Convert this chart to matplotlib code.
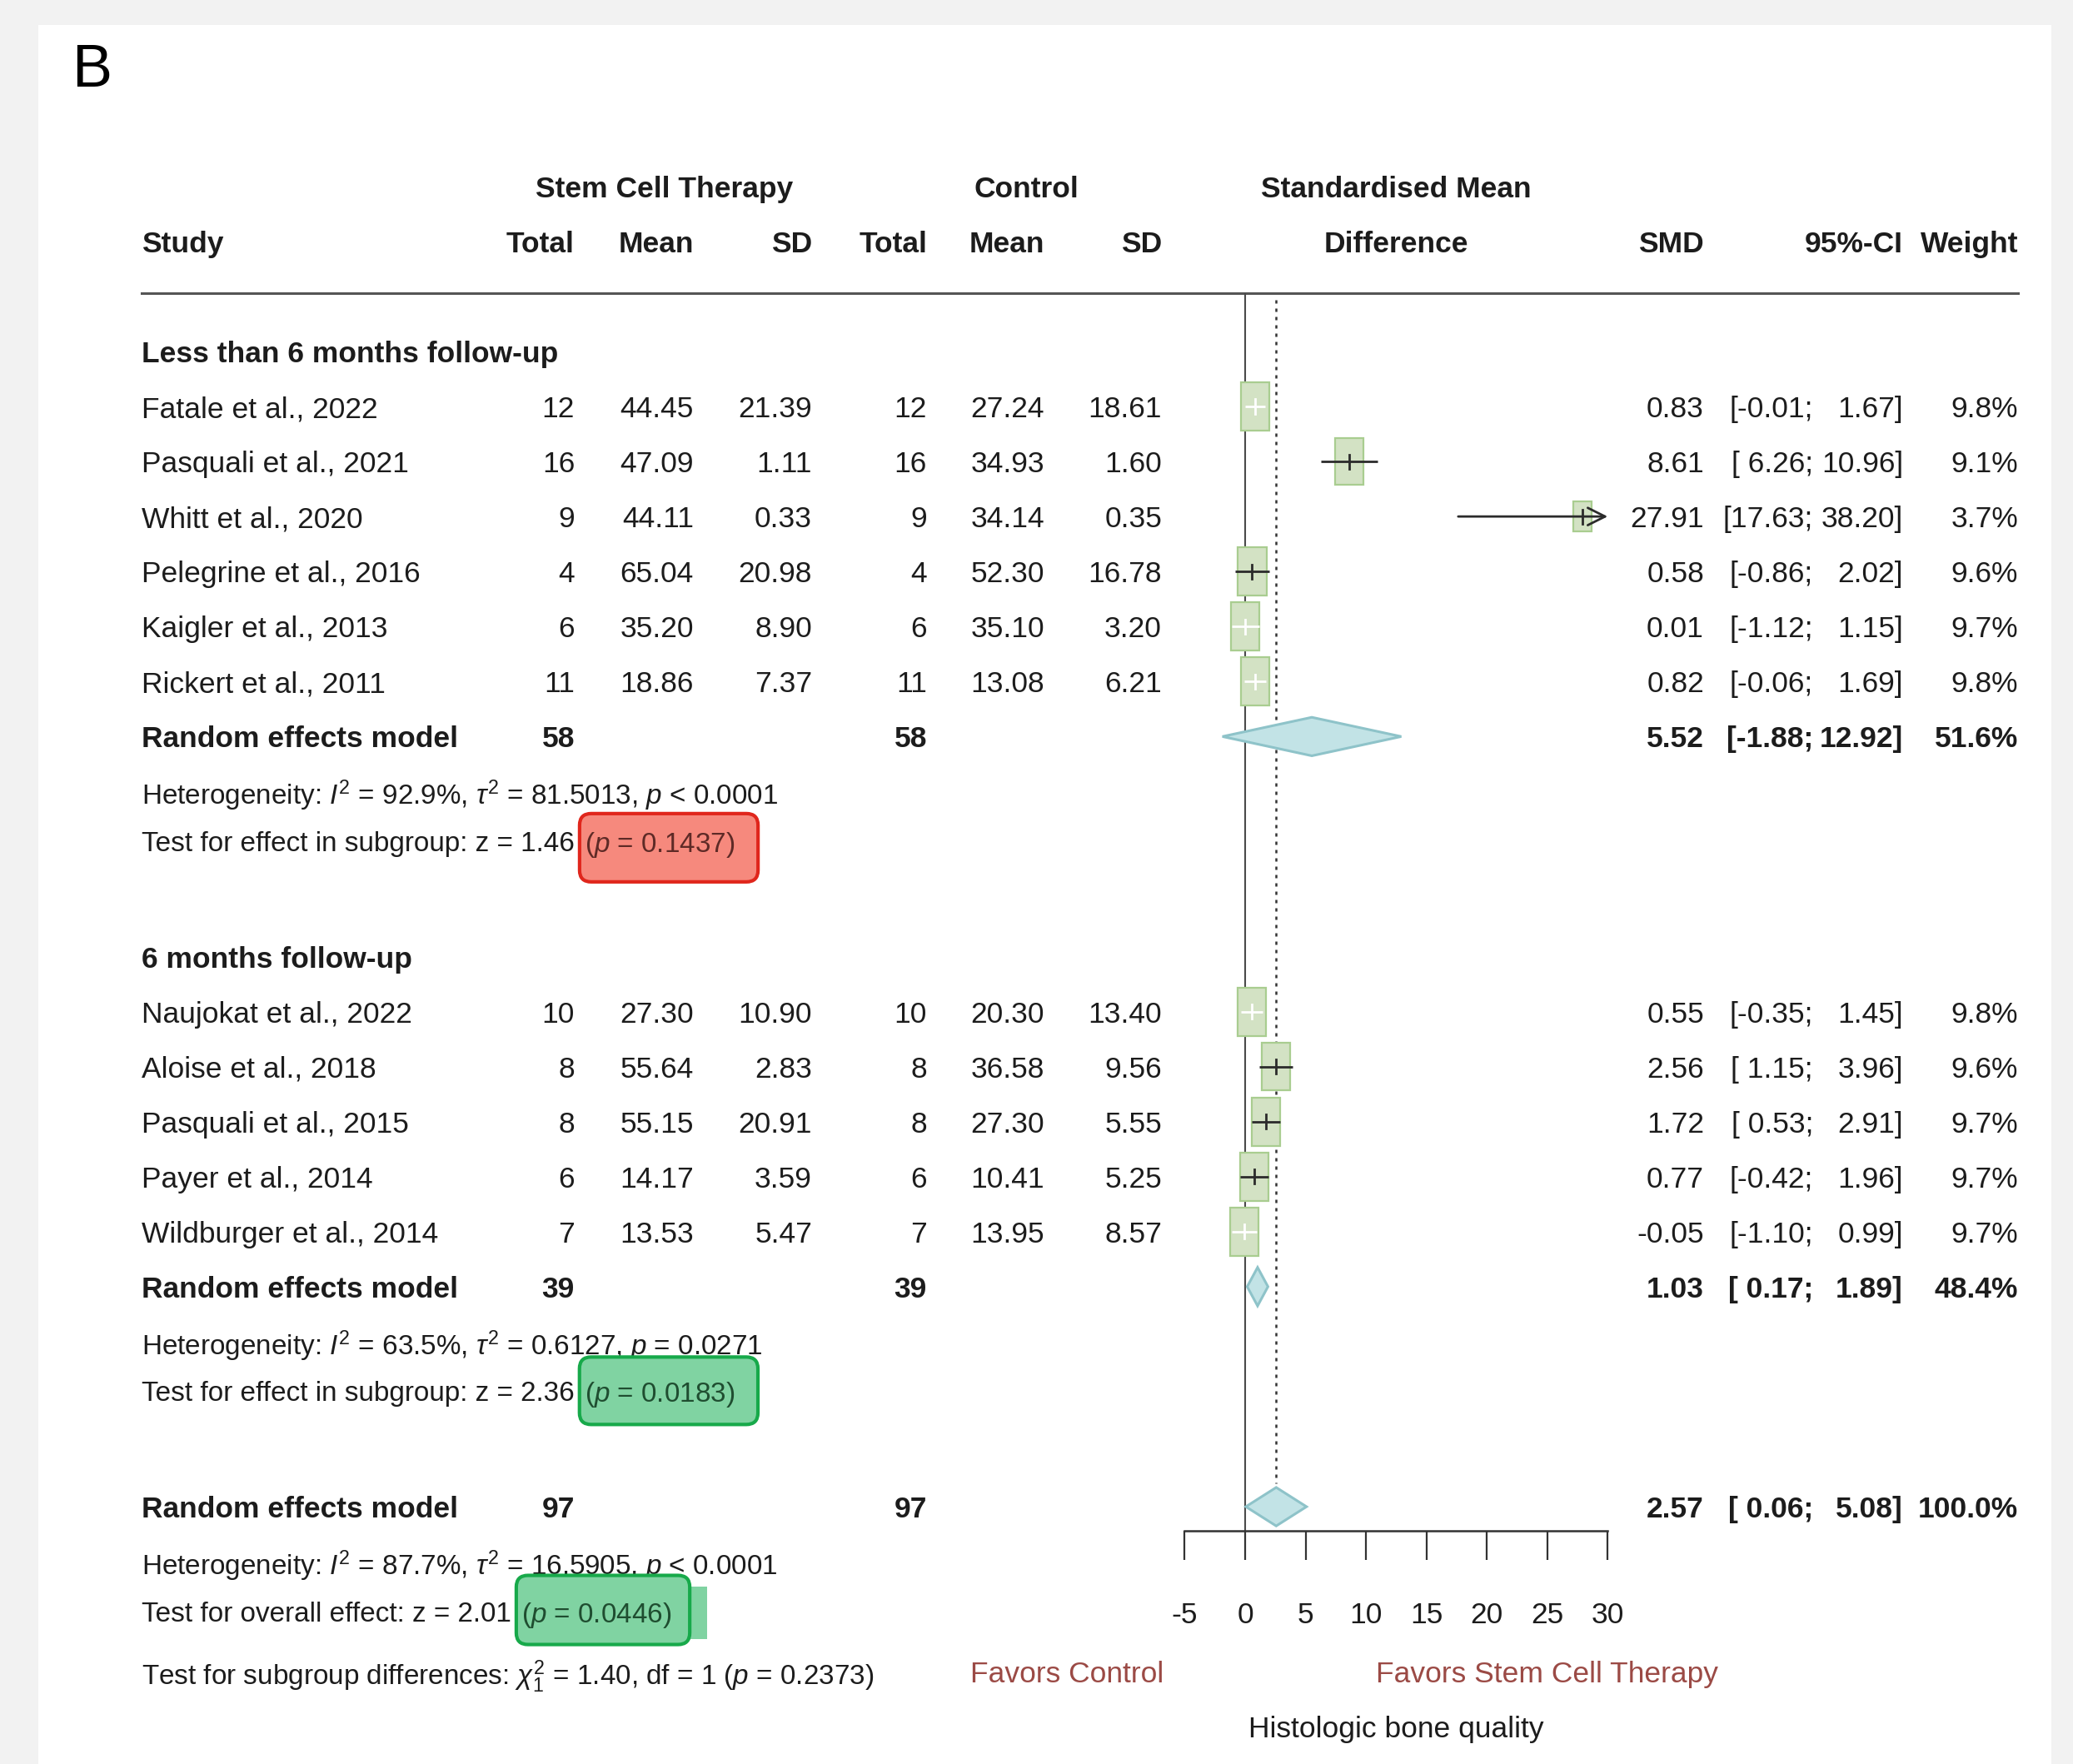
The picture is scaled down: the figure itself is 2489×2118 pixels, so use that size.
import matplotlib
matplotlib.use('Agg')
import matplotlib.pyplot as plt
from matplotlib import font_manager
from matplotlib.patches import Rectangle, Polygon, FancyBboxPatch
import numpy as np

names = {f.name for f in font_manager.fontManager.ttflist}
FONT = 'Liberation Sans Narrow' if 'Liberation Sans Narrow' in names else 'Liberation Sans'
FS = 31 if FONT.endswith('Narrow') else 25.5
FS_NOTE = FS * 0.94

plt.rcParams.update({
    'font.family': [FONT, 'DejaVu Sans'],
    'font.size': FS,
    'axes.unicode_minus': False,
    'mathtext.fontset': 'custom',
    'mathtext.rm': FONT,
    'mathtext.it': FONT + ':italic',
    'mathtext.bf': FONT + ':bold',
})

TXT = '#1c1c1c'
SQ_FACE = '#d3e2c4'
SQ_EDGE = '#a9cd90'
DIA_FACE = '#c2e3e6'
DIA_EDGE = '#8ec3c9'
FAV = '#9b4a45'

# ---- data ----
studies1 = ['Fatale et al., 2022', 'Pasquali et al., 2021', 'Whitt et al., 2020',
            'Pelegrine et al., 2016', 'Kaigler et al., 2013', 'Rickert et al., 2011']
n_e1 = [12, 16, 9, 4, 6, 11]
mean_e1 = [44.45, 47.09, 44.11, 65.04, 35.20, 18.86]
sd_e1 = [21.39, 1.11, 0.33, 20.98, 8.90, 7.37]
n_c1 = [12, 16, 9, 4, 6, 11]
mean_c1 = [27.24, 34.93, 34.14, 52.30, 35.10, 13.08]
sd_c1 = [18.61, 1.60, 0.35, 16.78, 3.20, 6.21]
smd1 = [0.83, 8.61, 27.91, 0.58, 0.01, 0.82]
lo1 = [-0.01, 6.26, 17.63, -0.86, -1.12, -0.06]
hi1 = [1.67, 10.96, 38.20, 2.02, 1.15, 1.69]
w1 = [9.8, 9.1, 3.7, 9.6, 9.7, 9.8]

studies2 = ['Naujokat et al., 2022', 'Aloise et al., 2018', 'Pasquali et al., 2015',
            'Payer et al., 2014', 'Wildburger et al., 2014']
n_e2 = [10, 8, 8, 6, 7]
mean_e2 = [27.30, 55.64, 55.15, 14.17, 13.53]
sd_e2 = [10.90, 2.83, 20.91, 3.59, 5.47]
n_c2 = [10, 8, 8, 6, 7]
mean_c2 = [20.30, 36.58, 27.30, 10.41, 13.95]
sd_c2 = [13.40, 9.56, 5.55, 5.25, 8.57]
smd2 = [0.55, 2.56, 1.72, 0.77, -0.05]
lo2 = [-0.35, 1.15, 0.53, -0.42, -1.10]
hi2 = [1.45, 3.96, 2.91, 1.96, 0.99]
w2 = [9.8, 9.6, 9.7, 9.7, 9.7]

group_titles = ['Less than 6 months follow-up', '6 months follow-up']
re_n = [58, 39]
re_smd = [5.52, 1.03]
re_lo = [-1.88, 0.17]
re_hi = [12.92, 1.89]
re_w = [51.6, 48.4]
het_txt = [r'Heterogeneity: $I^2$ = 92.9%, $\tau^2$ = 81.5013, $p$ < 0.0001',
           r'Heterogeneity: $I^2$ = 63.5%, $\tau^2$ = 0.6127, $p$ = 0.0271']
test_lead = ['Test for effect in subgroup: z = 1.46', 'Test for effect in subgroup: z = 2.36']
test_p = [r'($p$ = 0.1437)', r'($p$ = 0.0183)']

ov_n = 97
ov_smd, ov_lo, ov_hi, ov_w = 2.57, 0.06, 5.08, 100.0
ov_het = r'Heterogeneity: $I^2$ = 87.7%, $\tau^2$ = 16.5905, $p$ < 0.0001'
ov_lead = 'Test for overall effect: z = 2.01'
ov_p = r'($p$ = 0.0446)'
sub_txt = r'Test for subgroup differences: $\chi^2_1$ = 1.40, df = 1 ($p$ = 0.2373)'

xticks = [-5, 0, 5, 10, 15, 20, 25, 30]

# ---- layout (pixels of the 2489x2118 canvas) ----
W, H = 2489, 2118
ROW0_PX, ROW_PX = 422, 66.05
def row_of(px):
    return (px - ROW0_PX) / ROW_PX

X_STUDY = 170
X_NE, X_ME, X_SE = 690, 833, 975
X_NC, X_MC, X_SC = 1113, 1254, 1395
X_SMD, X_SEMI, X_CIEND, X_W = 2046, 2177, 2285, 2423
ZERO_PX, PX_PER_UNIT = 1495, 14.51
AXIS_PX, RULE_PX = 1838, 352

fig = plt.figure(figsize=(W / 100, H / 100), dpi=100)
fig.patch.set_facecolor('#f2f2f2')

ax = fig.add_axes([0, 0, 1, 1])
ax.set_xlim(0, W)
ax.set_ylim(row_of(H), row_of(0))
ax.axis('off')
ax.add_patch(Rectangle((46, row_of(30)), 2463 - 46, row_of(H) - row_of(30),
                       facecolor='white', edgecolor='none', zorder=0))

ax.text(86, row_of(86), 'B', fontsize=52, color='black', ha='left', va='center')

# forest axes
xmin, xmax = xticks[0], xticks[-1]
left_px = ZERO_PX + xmin * PX_PER_UNIT
right_px = ZERO_PX + xmax * PX_PER_UNIT
axf = fig.add_axes([left_px / W, 1 - AXIS_PX / H, (right_px - left_px) / W, (AXIS_PX - RULE_PX) / H])
axf.set_xlim(xmin, xmax)
axf.set_ylim(row_of(AXIS_PX), row_of(RULE_PX))
axf.patch.set_alpha(0)
for s in ['left', 'right', 'top']:
    axf.spines[s].set_visible(False)
axf.spines['bottom'].set_linewidth(1.8)
axf.spines['bottom'].set_color('#333333')
axf.set_xticks(xticks)
axf.set_xticklabels([str(t) for t in xticks])
axf.set_yticks([])
axf.tick_params(axis='x', direction='out', length=25, width=1.6, pad=36,
                labelsize=FS, colors='#333333', labelcolor=TXT)
axf.axvline(0, color='#4a4a4a', lw=1.5, zorder=1)

def put(x, row, s, ha='right', bold=False, color=TXT, **kw):
    return ax.text(x, row, s, ha=ha, va='center_baseline', color=color,
                   fontweight='bold' if bold else 'normal', **kw)

# header
put(X_STUDY, -2, 'Study', ha='left', bold=True)
put((641 + 954) / 2, -3, 'Stem Cell Therapy', ha='center', bold=True)
put(1232, -3, 'Control', ha='center', bold=True)
put(1676, -3, 'Standardised Mean', ha='center', bold=True)
put(1676, -2, 'Difference', ha='center', bold=True)
for x, s in [(X_NE, 'Total'), (X_ME, 'Mean'), (X_SE, 'SD'), (X_NC, 'Total'),
             (X_MC, 'Mean'), (X_SC, 'SD'), (X_SMD, 'SMD'), (X_CIEND, '95%-CI'), (X_W, 'Weight')]:
    put(x, -2, s, bold=True)
ax.plot([X_STUDY, X_W], [row_of(RULE_PX)] * 2, color='#555555', lw=2.2, zorder=2)

renderer = fig.canvas.get_renderer()

def ci_cols(row, smd, lo, hi, w, bold=False):
    put(X_SMD, row, f'{smd:.2f}', bold=bold)
    put(X_SEMI, row, f'[{lo:5.2f};', bold=bold)
    put(X_CIEND, row, f'{hi:.2f}]', bold=bold)
    put(X_W, row, f'{w:.1f}%', bold=bold)

def p_box(row, lead, ptxt, pads, ec, fc, tc, extra=None):
    t1 = put(X_STUDY, row, lead, ha='left', fontsize=FS_NOTE)
    bb = t1.get_window_extent(renderer)
    t2 = put(bb.x1 + 12, row, ptxt, ha='left', color=tc, zorder=5, fontsize=FS_NOTE)
    b2 = t2.get_window_extent(renderer)
    l, r, up, dn = pads
    if extra is not None:
        el, er, eu, ed = extra
        ax.add_patch(Rectangle((b2.x0 - el, row - eu / ROW_PX), b2.x1 + er - (b2.x0 - el),
                               (eu + ed) / ROW_PX, facecolor=fc, edgecolor='none', zorder=3))
    ax.add_patch(FancyBboxPatch((b2.x0 - l, row - up / ROW_PX), b2.x1 + r - (b2.x0 - l),
                                (up + dn) / ROW_PX, boxstyle='round,pad=0,rounding_size=14',
                                mutation_aspect=1 / ROW_PX, facecolor=fc, edgecolor=ec,
                                lw=3, zorder=4))

def study_mark(row, smd, lo, hi, w):
    wx = 2.38 * np.sqrt(w / 9.8)
    hy = 0.88 * np.sqrt(w / 9.8)
    axf.add_patch(Rectangle((smd - wx / 2, row - hy / 2), wx, hy, facecolor=SQ_FACE,
                            edgecolor=SQ_EDGE, lw=1.6, zorder=3))
    col = 'white' if (hi - lo) < wx else '#2b2b2b'
    if hi > xmax:
        axf.annotate('', xy=(xmax, row), xytext=(lo, row), zorder=4,
                     arrowprops=dict(arrowstyle='->,head_length=0.5,head_width=0.25',
                                     color=col, lw=2, shrinkA=0, shrinkB=0, mutation_scale=30))
    else:
        axf.plot([lo, hi], [row, row], color=col, lw=2, zorder=4, solid_capstyle='butt')
    axf.plot([smd, smd], [row - 0.13, row + 0.13], color=col, lw=2, zorder=4)

def diamond(row, smd, lo, hi):
    axf.add_patch(Polygon([(lo, row), (smd, row - 0.35), (hi, row), (smd, row + 0.35)],
                          closed=True, facecolor=DIA_FACE, edgecolor=DIA_EDGE, lw=2.2, zorder=3))

groups = [
    (studies1, n_e1, mean_e1, sd_e1, n_c1, mean_c1, sd_c1, smd1, lo1, hi1, w1),
    (studies2, n_e2, mean_e2, sd_e2, n_c2, mean_c2, sd_c2, smd2, lo2, hi2, w2),
]
box_style = [
    dict(pads=(6, 28, 33, 49), ec='#e0261c', fc='#f6897d', tc='#5e2a26'),
    dict(pads=(6, 28, 41, 40), ec='#17a94a', fc='#80d3a2', tc='#1f4d30'),
]

row = 0
for g, (st, ne, me, se, nc, mc, sc, smd, lo, hi, w) in enumerate(groups):
    put(X_STUDY, row, group_titles[g], ha='left', bold=True)
    for i in range(len(st)):
        r = row + 1 + i
        put(X_STUDY, r, st[i], ha='left')
        put(X_NE, r, str(ne[i]))
        put(X_ME, r, f'{me[i]:.2f}')
        put(X_SE, r, f'{se[i]:.2f}')
        put(X_NC, r, str(nc[i]))
        put(X_MC, r, f'{mc[i]:.2f}')
        put(X_SC, r, f'{sc[i]:.2f}')
        ci_cols(r, smd[i], lo[i], hi[i], w[i])
        study_mark(r, smd[i], lo[i], hi[i], w[i])
    r_re = row + len(st) + 1
    put(X_STUDY, r_re, 'Random effects model', ha='left', bold=True)
    put(X_NE, r_re, str(re_n[g]), bold=True)
    put(X_NC, r_re, str(re_n[g]), bold=True)
    ci_cols(r_re, re_smd[g], re_lo[g], re_hi[g], re_w[g], bold=True)
    diamond(r_re, re_smd[g], re_lo[g], re_hi[g])
    put(X_STUDY, r_re + 1, het_txt[g], ha='left', fontsize=FS_NOTE)
    p_box(r_re + 1.9, test_lead[g], test_p[g], **box_style[g])
    row = r_re + 4

# overall
r_ov = row
put(X_STUDY, r_ov, 'Random effects model', ha='left', bold=True)
put(X_NE, r_ov, str(ov_n), bold=True)
put(X_NC, r_ov, str(ov_n), bold=True)
ci_cols(r_ov, ov_smd, ov_lo, ov_hi, ov_w, bold=True)
diamond(r_ov, ov_smd, ov_lo, ov_hi)
axf.plot([ov_smd, ov_smd], [row_of(RULE_PX) + 0.12, r_ov - 0.42], color='#333333',
         lw=1.8, ls=(0, (1.6, 2.4)), zorder=2)
put(X_STUDY, r_ov + 1, ov_het, ha='left', fontsize=FS_NOTE)
p_box(r_ov + 1.9, ov_lead, ov_p, pads=(6, 22, 43, 40), ec='#17a94a', fc='#80d3a2',
      tc='#1f4d30', extra=(-2, 43, 30, 33))
put(X_STUDY, r_ov + 3, sub_txt, ha='left', fontsize=FS_NOTE)

put(1397, r_ov + 3, 'Favors Control', ha='right', color=FAV)
put(1652, r_ov + 3, 'Favors Stem Cell Therapy', ha='left', color=FAV)
put(1676, r_ov + 4, 'Histologic bone quality', ha='center')

fig.savefig('out.png', dpi=100, facecolor=fig.get_facecolor())
